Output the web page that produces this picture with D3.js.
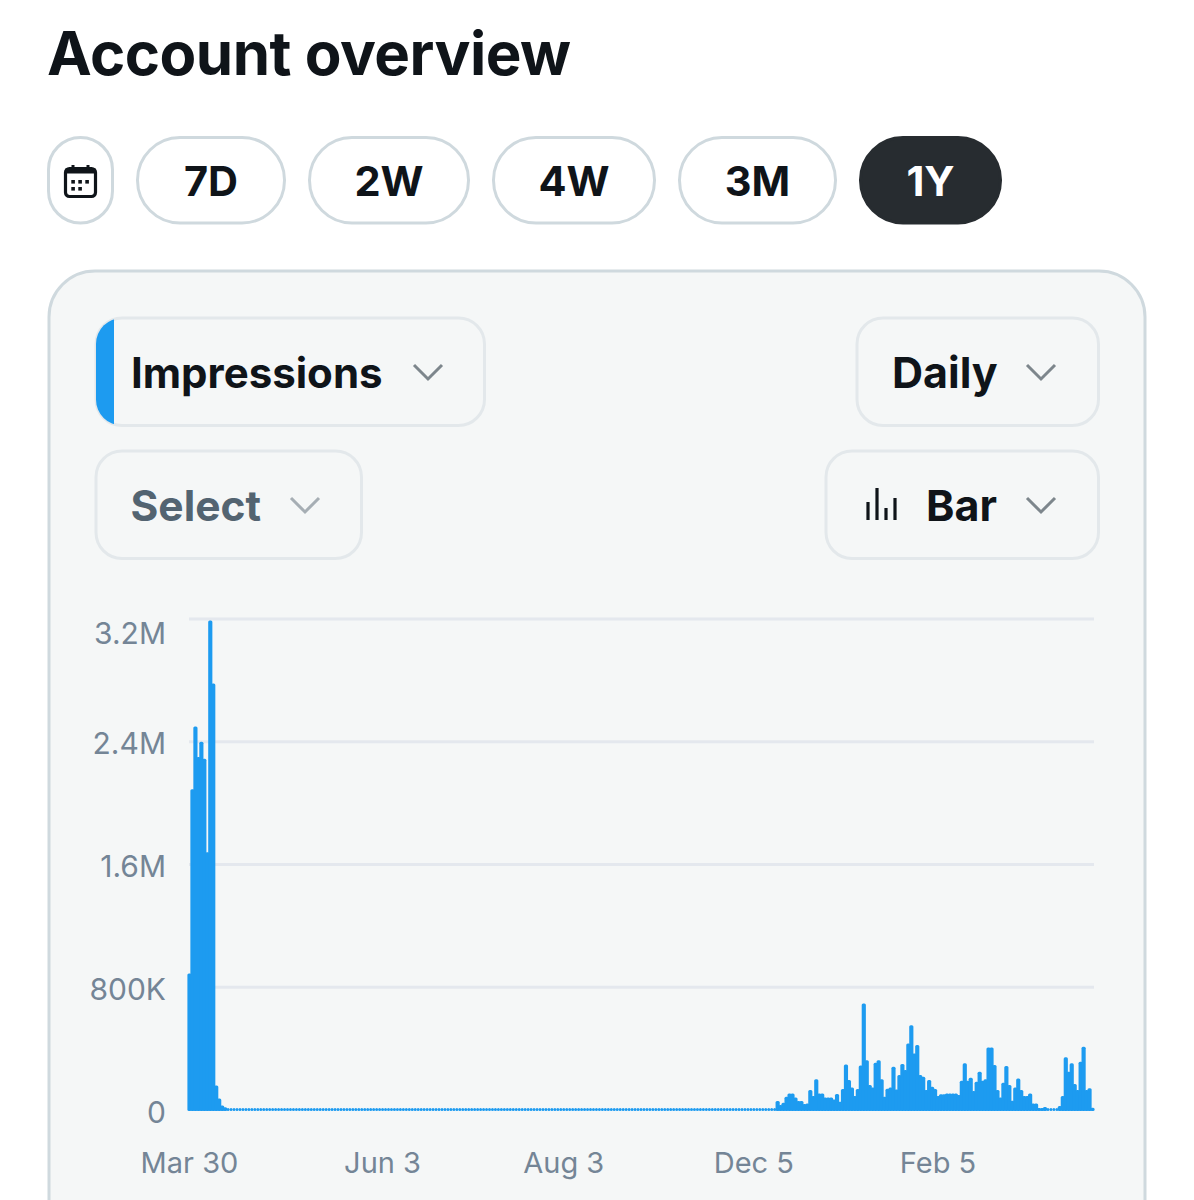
<!DOCTYPE html>
<html>
<head>
<meta charset="utf-8">
<script src="https://cdn.jsdelivr.net/npm/d3@7"></script>
<style>
  html, body { margin: 0; padding: 0; background: #fff; overflow: hidden; }
  svg { display: block; }
  text { font-family: Inter, "Noto Sans", sans-serif; }
</style>
</head>
<body>
<svg width="1194" height="1200"></svg>
<script>
// daily impressions, in thousands
var spikeValues = [890, 2090, 2500, 2300, 2400, 2290, 1680, 3190, 2780, 160, 75, 30, 18, 12, 10];
var quietValues = [
  8, 7, 7, 6, 6, 6, 5, 6, 5, 5,
  6, 5, 5, 6, 5, 5, 5, 6, 5, 5,
  6, 6, 5, 5, 5, 6, 5, 6, 5, 5,
  5, 6, 6, 5, 5, 6, 5, 5, 5, 6,
  6, 5, 5, 6, 6, 5, 5, 5, 6, 5,
  5, 6, 5, 5, 6, 6, 5, 5, 6, 5,
  5, 5, 6, 5, 6, 5, 5, 6, 5, 5,
  6, 5, 5, 5, 6, 6, 5, 6, 5, 5,
  6, 5, 6, 5, 5, 5, 6, 5, 5, 6,
  5, 5, 6, 6, 5, 5, 6, 5, 5, 5,
  6, 5, 5, 6, 5, 6, 5, 5, 5, 6,
  5, 6, 5, 5, 6, 5, 5, 6, 6, 5,
  5, 5, 6, 5, 5, 6, 5, 6, 5, 5,
  6, 5, 5, 5, 6, 5, 6, 6, 5, 5,
  6, 5, 5, 6, 5, 5, 5, 6, 5, 6,
  5, 6, 6, 5, 5, 6, 5, 6, 6, 5,
  6, 6, 5, 6, 6, 6, 6, 7, 6, 7,
  7, 7, 8, 7, 8, 8, 8
];
var winterValues = [
  8, 9, 9, 10, 11, 12,
  58, 32, 48, 87, 108, 108, 82, 58, 58, 39,
  43, 130, 91, 200, 108, 108, 82, 82, 82, 69,
  104, 54, 137, 297, 195, 147, 91, 137, 290, 694,
  325, 163, 147, 308, 325, 200, 87, 139, 147, 282,
  134, 228, 299, 260, 434, 553, 369, 423, 228, 217,
  130, 195, 152, 137, 91, 102, 102, 108, 108, 108,
  108, 98, 191, 304, 191, 210, 124, 184, 249, 191,
  200, 408, 408, 293, 130, 82, 178, 286, 163, 61,
  147, 206, 130, 91, 91, 108, 43, 43, 13, 13,
  20, 11, 11, 11, 11, 26, 91, 343, 249, 304,
  169, 130, 314, 412, 130, 141, 15
];
var values = spikeValues.concat(quietValues, winterValues);

var yTicks = [0, 800, 1600, 2400, 3200];
var yLabels = ["0", "800K", "1.6M", "2.4M", "3.2M"];
var xTickDays = [0, 65, 126, 190, 252];
var xLabels = ["Mar 30", "Jun 3", "Aug 3", "Dec 5", "Feb 5"];
var rangeLabels = ["7D", "2W", "4W", "3M", "1Y"];

var svg = d3.select("svg");
var ink = "#0f1419", blue = "#1d9bf0", edge = "#e3e8eb", slate = "#536471", axisInk = "#748596";

// title and the range pills
svg.append("text").attr("x", 47).attr("y", 75)
    .attr("font-size", 60).attr("font-weight", 700).attr("letter-spacing", -0.5)
    .attr("fill", ink).text("Account overview");

function pill(x0, x1, on) {
  return svg.append("rect").attr("x", x0 + 0.5).attr("y", 137.5)
      .attr("width", x1 - x0 - 1).attr("height", 85.5).attr("rx", 42.5)
      .attr("fill", on ? "#272c30" : "#fff")
      .attr("stroke", on ? "#272c30" : "#cfd9de").attr("stroke-width", 3);
}

var pillEdges = [[137, 285], [309, 469], [493, 655], [679, 836], [860, 1001]];
pill(48, 113, false).attr("rx", 32);
rangeLabels.forEach(function(label, i) {
  var e = pillEdges[i];
  pill(e[0], e[1], label == "1Y");
  svg.append("text").attr("x", (e[0] + e[1]) / 2).attr("y", 196)
      .attr("text-anchor", "middle").attr("font-size", 41.5).attr("font-weight", 700)
      .attr("fill", label == "1Y" ? "#fff" : ink).text(label);
});

// calendar icon
var cal = svg.append("g").attr("transform", "translate(64,165)");
cal.append("rect").attr("x", 1.5).attr("y", 3.5).attr("width", 30).attr("height", 28).attr("rx", 4)
    .attr("fill", "none").attr("stroke", ink).attr("stroke-width", 3.2);
cal.append("rect").attr("x", 1.5).attr("y", 3.5).attr("width", 30).attr("height", 5).attr("fill", ink);
[9, 24].forEach(function(x) {
  cal.append("rect").attr("x", x - 1.5).attr("y", 0).attr("width", 3).attr("height", 6).attr("fill", ink);
});
[[9, 15], [16, 15], [23, 15], [9, 22], [16, 22]].forEach(function(p) {
  cal.append("rect").attr("x", p[0] - 1.7).attr("y", p[1]).attr("width", 3.6).attr("height", 3.6).attr("fill", ink);
});

// card
svg.append("rect").attr("x", 49).attr("y", 271).attr("width", 1096).attr("height", 980).attr("rx", 46)
    .attr("fill", "#f5f7f7").attr("stroke", "#cfd9de").attr("stroke-width", 3);

function chevron(cx, cy, color) {
  svg.append("path").attr("d", "M" + (cx - 14) + "," + (cy - 7) + "L" + cx + "," + (cy + 7) + "L" + (cx + 14) + "," + (cy - 7))
      .attr("fill", "none").attr("stroke", color).attr("stroke-width", 3);
}

function dropdown(x0, x1, y0, label, textX, size, color, chevronX, chevronColor) {
  svg.append("rect").attr("x", x0).attr("y", y0).attr("width", x1 - x0 - 0.5).attr("height", 107.5).attr("rx", 26)
      .attr("fill", "#f5f7f7").attr("stroke", edge).attr("stroke-width", 3);
  svg.append("text").attr("x", textX).attr("y", y0 + 70)
      .attr("font-size", size).attr("font-weight", 700).attr("fill", color).text(label);
  chevron(chevronX, y0 + 54, chevronColor);
}

dropdown(96, 485, 318, "Impressions", 131, 42, ink, 428, "#7d868c");
dropdown(857, 1099, 318, "Daily", 892, 43, ink, 1041, "#7d868c");
dropdown(96, 362, 451, "Select", 130.5, 42.5, slate, 305, "#a6aeb4");
dropdown(826, 1099, 451, "Bar", 926, 43, ink, 1041, "#7d868c");

// blue key on the first dropdown
svg.append("clipPath").attr("id", "keyClip").append("rect")
    .attr("x", 96).attr("y", 318).attr("width", 388.5).attr("height", 107.5).attr("rx", 26);
svg.append("rect").attr("x", 96).attr("y", 318).attr("width", 18).attr("height", 108)
    .attr("fill", blue).attr("clip-path", "url(#keyClip)");

// bar icon
[[868, 502], [877, 488], [886, 508], [895, 498]].forEach(function(b) {
  svg.append("rect").attr("x", b[0] - 1.6).attr("y", b[1]).attr("width", 3.2).attr("height", 520 - b[1]).attr("fill", ink);
});

// chart
var x = d3.scaleBand().domain(d3.range(values.length)).range([188, 1094]).padding(0);
var y = d3.scaleLinear().domain([0, 3200]).range([1110, 619]);

var yAxis = d3.axisLeft(y).tickValues(yTicks).tickSize(0).tickPadding(0)
    .tickFormat(function(d, i) { return yLabels[i]; });
var yG = svg.append("g").attr("transform", "translate(166,0)").call(yAxis);
yG.select(".domain").remove();
yG.selectAll("text")
    .attr("font-size", 30).attr("fill", axisInk).style("font-family", "Inter")
    .attr("dy", function(d) { return d == 3200 ? "0.82em" : "0.4em"; });

svg.append("g").selectAll("line")
    .data(yTicks.slice(1))
  .enter().append("line")
    .attr("x1", 189).attr("x2", 1094)
    .attr("y1", function(d) { return y(d); })
    .attr("y2", function(d) { return y(d); })
    .attr("stroke", "#e4e8ee").attr("stroke-width", 3);

// bars that have any height overlap a little, the quiet ones stay as separate dots
svg.append("g").selectAll("rect")
    .data(values)
  .enter().append("rect")
    .attr("x", function(d, i) { return x(i) - (d > 12 ? 0.6 : 0); })
    .attr("width", function(d) { return x.bandwidth() + (d > 12 ? 1.2 : 0); })
    .attr("y", function(d) { return Math.min(y(d), 1108); })
    .attr("height", function(d) { return Math.max(1110 - y(d), 2) + 1; })
    .attr("rx", 1.5)
    .attr("fill", blue);

var xAxis = d3.axisBottom(x).tickValues(xTickDays).tickSize(0).tickPadding(0)
    .tickFormat(function(d, i) { return xLabels[i]; });
var xG = svg.append("g").attr("transform", "translate(0,1152)").call(xAxis);
xG.select(".domain").remove();
xG.selectAll("text")
    .attr("font-size", 29).attr("fill", axisInk).style("font-family", "Inter");
</script>
</body>
</html>
